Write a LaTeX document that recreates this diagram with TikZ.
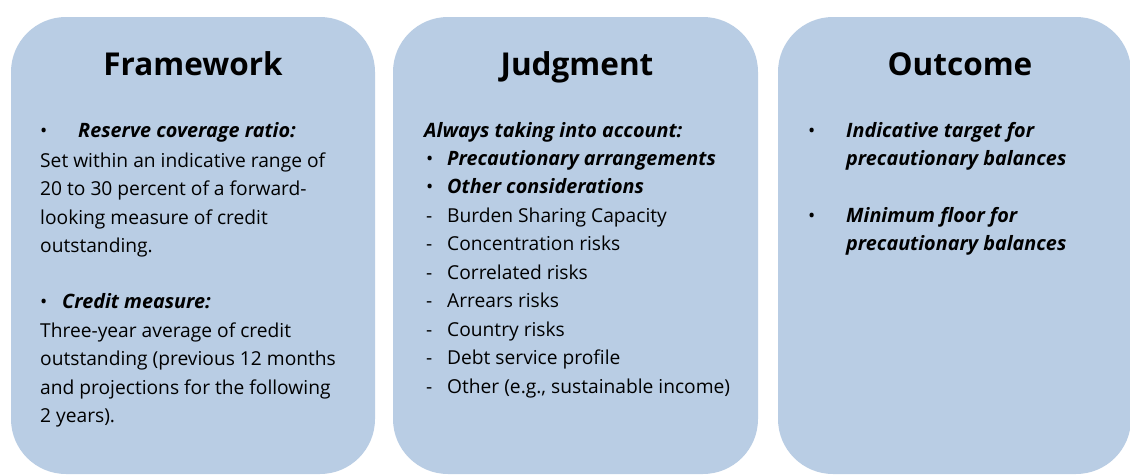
\documentclass[tikz,border=0pt]{standalone}
\usepackage{fontspec}
\setmainfont{Open Sans}
\definecolor{panelblue}{RGB}{185,205,228}
\begin{document}
\begin{tikzpicture}[x=1pt,y=-1pt,
  panel/.style={fill=panelblue, draw=none, rounded corners=55pt, inner sep=0pt},
  title/.style={anchor=base, inner sep=0pt, font=\fontsize{31.5}{36}\selectfont\bfseries},
  body/.style={anchor=base west, inner sep=0pt, font=\fontsize{19.2}{23}\selectfont},
  head/.style={anchor=base west, inner sep=0pt, font=\fontsize{19.8}{23}\selectfont\bfseries\itshape},
]
\useasboundingbox (0,0) rectangle (1130,474);
\fill[white] (0,0) rectangle (1130,474);

% three panels
\node[panel, minimum width=364pt, minimum height=457pt] (framework) at (193,245.5) {};
\node[panel, minimum width=365pt, minimum height=457pt] (judgment) at (575.5,245.5) {};
\node[panel, minimum width=353pt, minimum height=457pt] (outcome) at (954.5,245.5) {};

% titles
\node[title] (t1) at (193,75) {Framework};
\node[title] (t2) at (577,75) {Judgment};
\node[title] (t3) at (960,75) {Outcome};

% Framework column
\node[body] (f1b) at (40,137) {•};
\node[head] (f1) at (78,137) {Reserve coverage ratio:};
\node[body] (f2) at (40,167) {Set within an indicative range of};
\node[body] (f3) at (40,195) {20 to 30 percent of a forward-};
\node[body] (f4) at (40,224) {looking measure of credit};
\node[body] (f5) at (40,252) {outstanding.};
\node[body] (f6b) at (40,308) {•};
\node[head] (f6) at (62,308) {Credit measure:};
\node[body] (f7) at (40,337) {Three-year average of credit};
\node[body] (f8) at (40,365) {outstanding (previous 12 months};
\node[body] (f9) at (40,394) {and projections for the following};
\node[body] (f10) at (40,422) {2 years).};

% Judgment column
\node[head] (j1) at (424,137) {Always taking into account:};
\node[body] (j2b) at (426,165) {•};
\node[head] (j2) at (447,165) {Precautionary arrangements};
\node[body] (j3b) at (426,193) {•};
\node[head] (j3) at (447,193) {Other considerations};
\node[body] (j4b) at (426,222) {-};
\node[body] (j4) at (447,222) {Burden Sharing Capacity};
\node[body] (j5b) at (426,250) {-};
\node[body] (j5) at (447,250) {Concentration risks};
\node[body] (j6b) at (426,279) {-};
\node[body] (j6) at (447,279) {Correlated risks};
\node[body] (j7b) at (426,307) {-};
\node[body] (j7) at (447,307) {Arrears risks};
\node[body] (j8b) at (426,336) {-};
\node[body] (j8) at (447,336) {Country risks};
\node[body] (j9b) at (426,364) {-};
\node[body] (j9) at (447,364) {Debt service profile};
\node[body] (j10b) at (426,393) {-};
\node[body] (j10) at (447,393) {Other (e.g., sustainable income)};

% Outcome column
\node[body] (o1b) at (808,137) {•};
\node[head] (o1) at (846,137) {Indicative target for};
\node[head] (o2) at (846,165) {precautionary balances};
\node[body] (o3b) at (808,222) {•};
\node[head] (o3) at (846,222) {Minimum floor for};
\node[head] (o4) at (846,250) {precautionary balances};
\end{tikzpicture}
\end{document}
